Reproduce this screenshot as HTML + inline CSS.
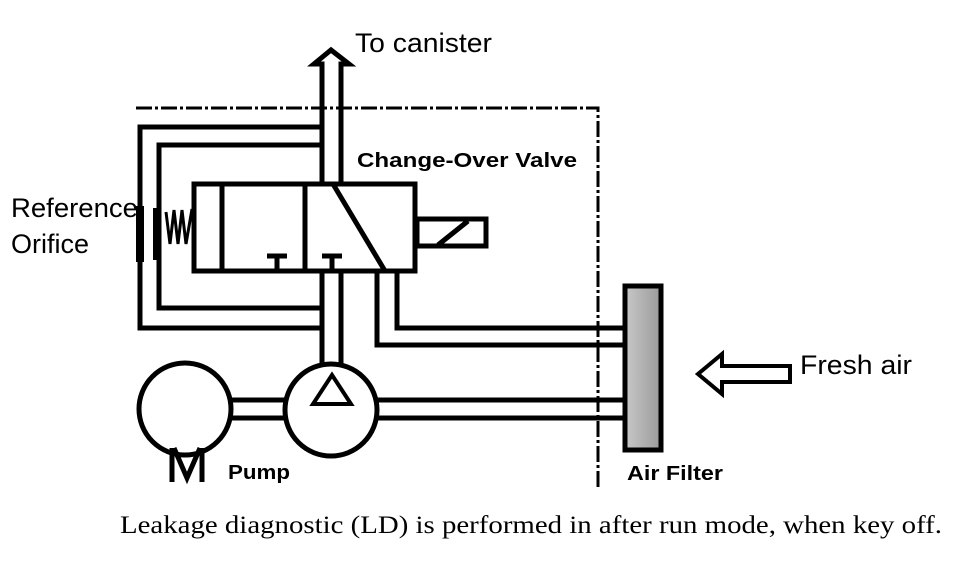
<!DOCTYPE html>
<html><head><meta charset="utf-8"><style>
html,body{margin:0;padding:0;background:#fff;}
svg{display:block;}
</style></head><body>
<svg width="974" height="570" viewBox="0 0 974 570" xmlns="http://www.w3.org/2000/svg">
<defs>
<linearGradient id="g" x1="0" x2="1"><stop offset="0" stop-color="#c8c8c8"/><stop offset="1" stop-color="#9a9a9a"/></linearGradient>
</defs>
<g fill="none" stroke="#000" stroke-width="5">
<path d="M136 108 H598 V488" stroke-width="3" stroke-dasharray="16 3 3 3"/>
<path d="M322 182 V64 H314 L331 50 L349 64 H341 V182" stroke-width="5" stroke-linejoin="miter"/>
<path d="M322 127 H140 V328 H322"/>
<path d="M322 145 H159 V308 H322"/>
<path d="M322 273 V365 M341 273 V365"/>
<rect x="194" y="184" width="221" height="87"/>
<path d="M222 184 V271 M305 184 V271"/>
<path d="M333 184 L385 271"/>
<path d="M277 256 V271 M267 256 H287 M332 256 V271 M322 256 H342"/>
<rect x="417" y="219" width="69" height="27"/>
<path d="M438 245 L468 221"/>
<path d="M377 271 V345 H623 M397 271 V328 H623"/>
<path d="M377 400 H623 M377 418 H623"/>
<path d="M231 400 H286 M231 418 H286"/>
<circle cx="185" cy="409" r="46"/>
<circle cx="331" cy="410" r="46"/>
<path d="M332 375 L313 404 H351 Z" stroke-width="4"/>
<path d="M192 209 L186 244 L182 210 L178 244 L174 210 L170 244 L166 212" stroke-width="3"/>
<path d="M790 366 H722 V354 L698 374 L722 394 V382 H790 Z" stroke-width="4" stroke-linejoin="miter"/>
</g>
<rect x="136" y="206" width="8" height="56" fill="#000"/>
<rect x="153" y="208" width="8" height="52" fill="#000"/>
<rect x="625" y="286" width="36" height="164" fill="url(#g)" stroke="#000" stroke-width="5"/>
<path d="M172 448 V482 M202 448 V482 M174 448 L187 478 L200 448" fill="none" stroke="#000" stroke-width="5"/>
<g font-family="Liberation Sans, sans-serif" fill="#000">
<text x="355" y="52" font-size="27" textLength="137" lengthAdjust="spacingAndGlyphs">To canister</text>
<text x="11" y="217" font-size="27" textLength="127" lengthAdjust="spacingAndGlyphs">Reference</text>
<text x="11" y="253" font-size="27">Orifice</text>
<text x="800" y="374" font-size="27" textLength="112" lengthAdjust="spacingAndGlyphs">Fresh air</text>
<text x="357" y="167" font-size="20" font-weight="bold" textLength="220" lengthAdjust="spacingAndGlyphs">Change-Over Valve</text>
<text x="228" y="479" font-size="20" font-weight="bold" textLength="62" lengthAdjust="spacingAndGlyphs">Pump</text>
<text x="627" y="480" font-size="20" font-weight="bold" textLength="96" lengthAdjust="spacingAndGlyphs">Air Filter</text>
</g>
<text x="120" y="533" font-family="Liberation Serif, serif" font-size="25" textLength="822" lengthAdjust="spacingAndGlyphs">Leakage diagnostic (LD) is performed in after run mode, when key off.</text>
</svg>
</body></html>
